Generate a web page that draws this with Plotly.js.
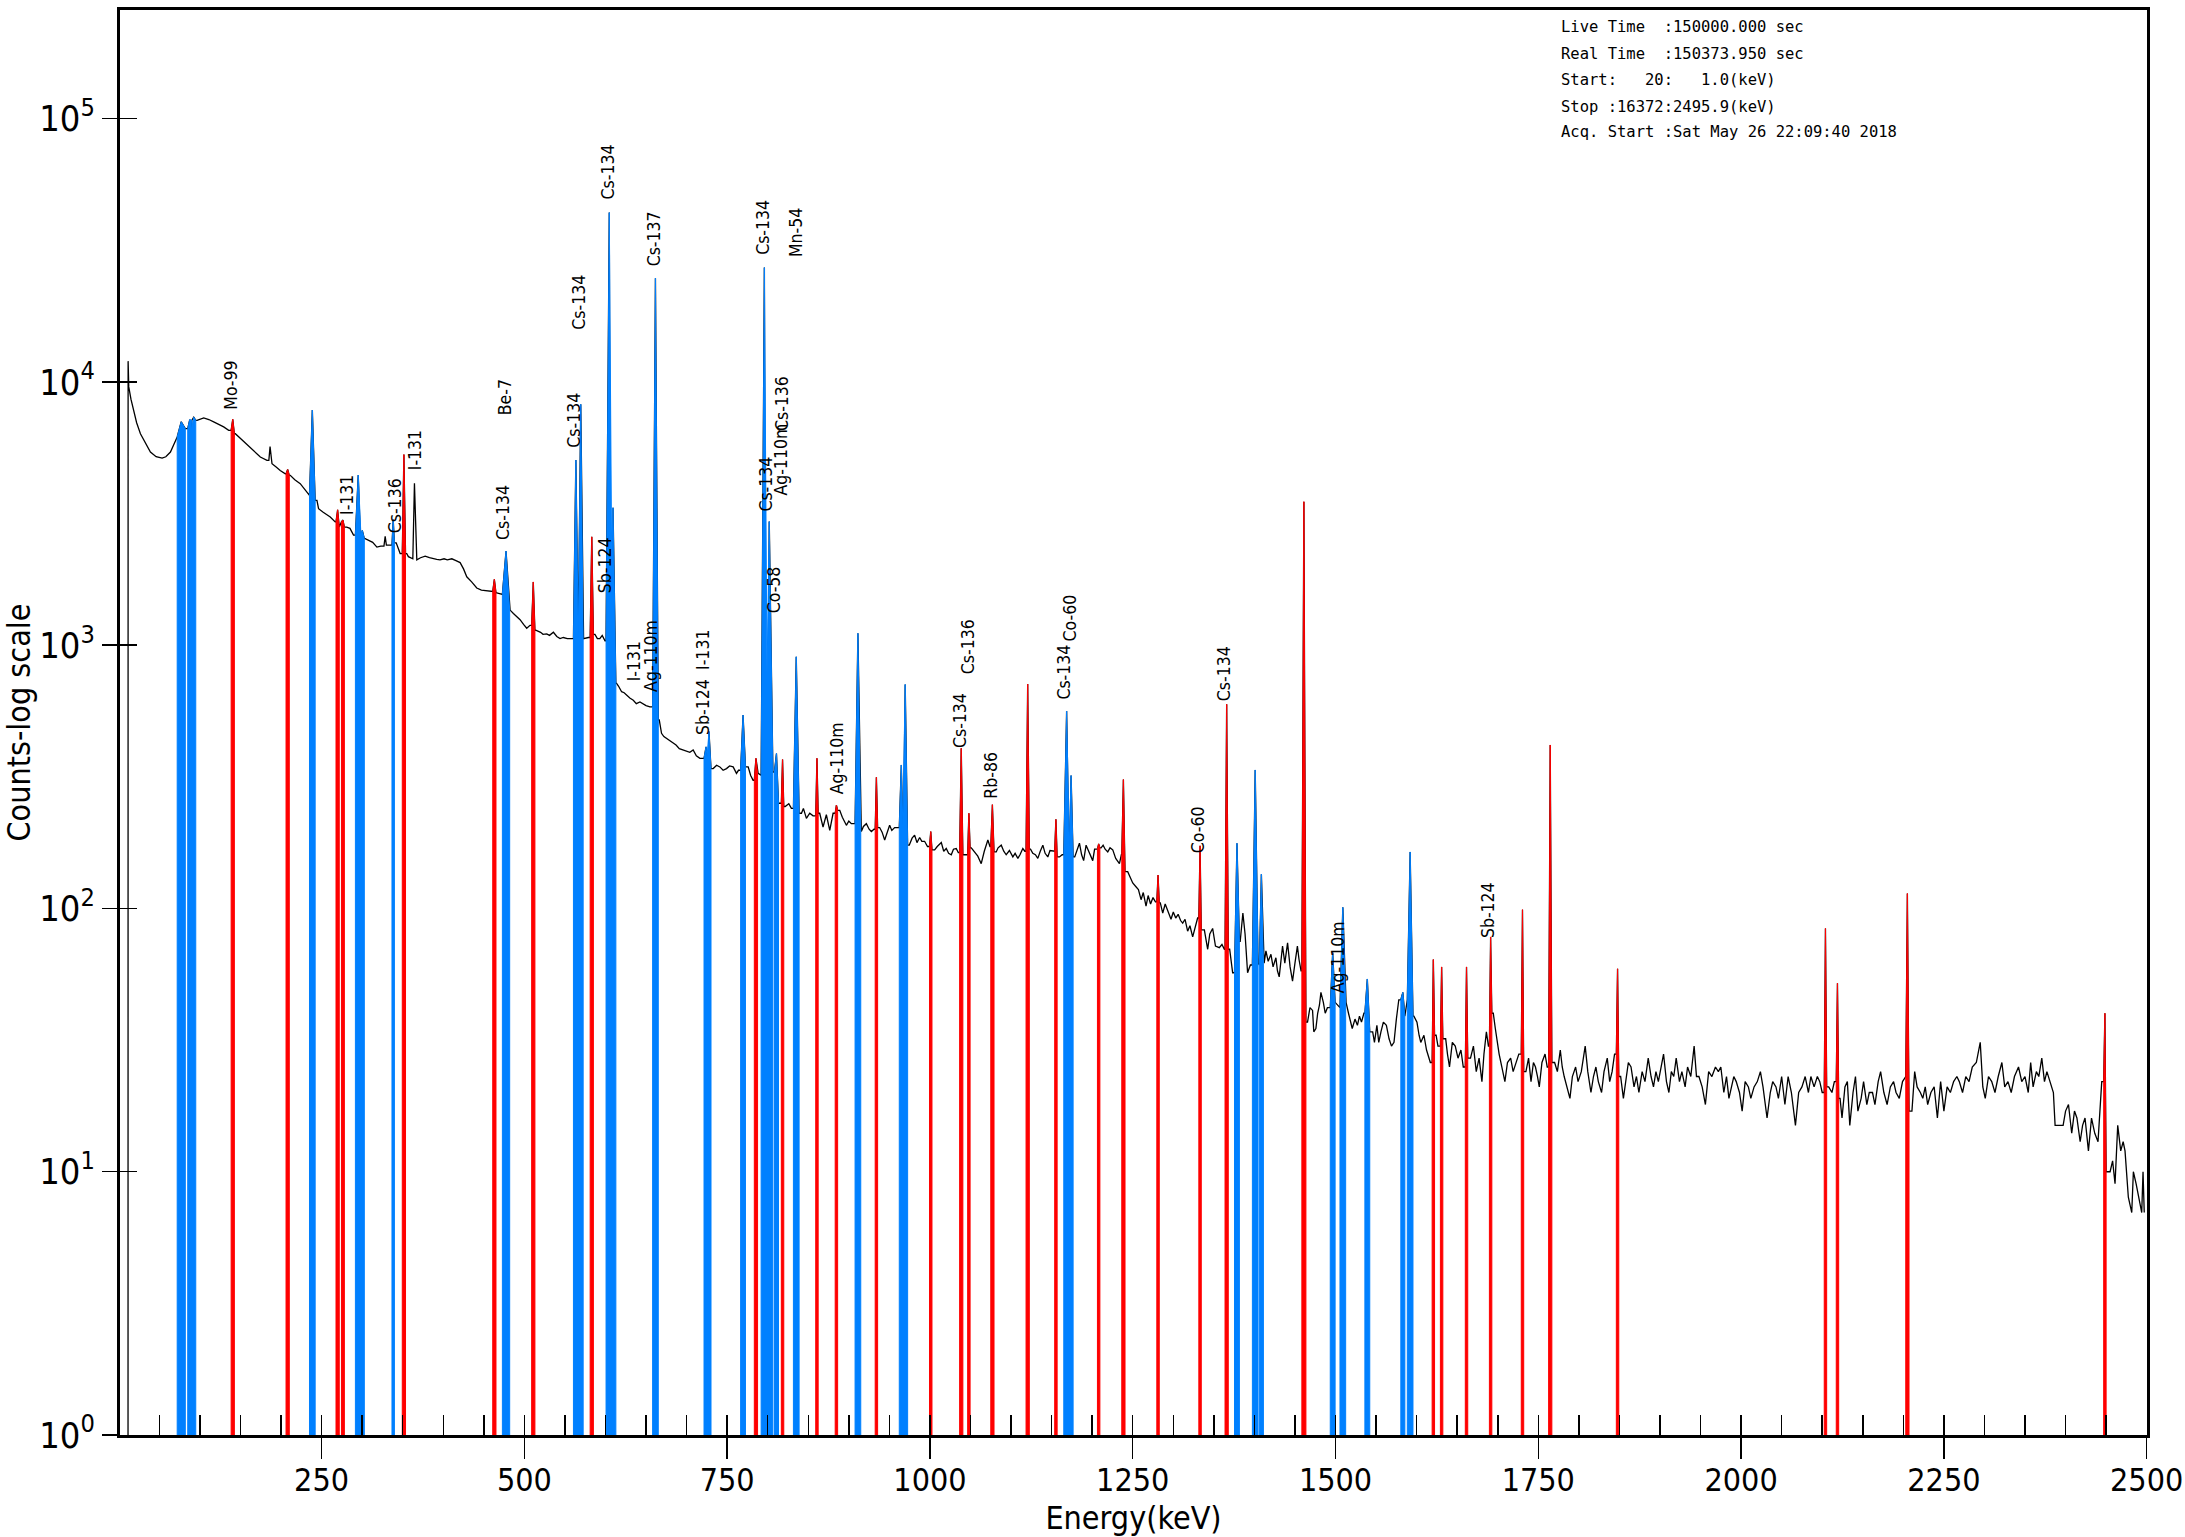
<!DOCTYPE html>
<html><head><meta charset="utf-8">
<script src="https://cdn.plot.ly/plotly-3.0.1.min.js"></script>
<style>html,body{margin:0;padding:0;background:#fff}#chart{width:2185px;height:1537px}</style>
</head><body><div id="chart"></div>
<script>
// ---------- DATA ----------
// continuum of the spectrum: [energy keV, counts]
const continuum = [
[11.4,1],[11.5,12000],[12.3,9580],[15,8600],[18.5,7800],[22,7000],[26.7,6360],[32,5900],[39,5420],[46,5200],[53.4,5140],[58,5200],[63.7,5420],[68,5800],[71.9,6180],[83.3,6650],[96.5,7150],
[104.7,7300],[111,7200],[117,7050],[123,6900],[129.3,6750],[135.5,6550],[143.7,6360],[150,6100],[158,5830],[166,5500],[174.5,5190],[182.7,5040],[188.9,4890],[194,4750],[199,4610],
[205.3,4480],[211.4,4420],[217,4250],[223.7,4110],[229,3900],[234,3710],[244.3,3550],[246.3,3300],[252,3200],[256,3150],[260.7,3070],[266.8,2940],[281,2810],[285,2780],[289.4,2620],
[303.8,2540],[308,2500],[313,2460],[318.2,2360],[323,2380],[333.5,2400],[342,2450],[346.9,2230],[355,2230],[357,2170],[361.3,2130],[367.4,2110],[372,2150],[377.7,2180],[383,2150],[388,2140],[392,2120],[396,2110],
[401,2130],[405,2110],[410.6,2130],[415,2100],[420.8,2060],[425,1950],[429,1820],[435,1740],[441.3,1650],[447,1620],[453.7,1610],[458,1600],[460.5,1600],[466,1580],[471,1560],[482.4,1360],[486.5,1320],[490,1290],[494.7,1250],[499,1200],
[502.9,1160],[507,1190],[514,1140],[520,1120],[523,1100],[527.6,1105],[531,1090],[535.8,1120],[540,1080],[544,1060],[548,1070],[553,1060],[558.3,1060],[573,1060],[578.9,1070],[587,1100],[590,1060],[593,1060],[596,1090],[599.4,1040],
[613.7,716],[616,700],[619.9,666],[623,660],[626,646],[630,630],[634.3,618],[638,600],[642.5,609],[646,600],[650,590],[654.8,583],[666.3,520],[669.1,463],[672,450],[675.3,443],[679,435],[683.5,424],[687,418],[691,405],[695.8,400],
[700,395],[704,392],[708.1,400],[712,380],[716.4,372],[732.8,340],[737,350],[741,345],[745,335],[749.2,340],[753,348],[757.4,345],[761.5,326],[764,335],[775.9,345],[779,320],[782,307],[788.2,326],[791.5,321],
[807,330],[814.9,251],[821.5,244],[826,250],[829.2,240],[841.6,230],[844,240],[847.7,220],[851.8,230],[855.9,225],[864.1,230],[868.2,204],[872.3,227],[876.5,198],[880.6,230],[888.8,236],[892,222],[897,207],
[900,215],[903.1,210],[915.4,196],[918,205],[921.6,210],[925,200],[927.8,196],[931,200],[938,203],[941,195],[944.2,182],[947,195],[950.3,207],[953,198],[956.5,203],[974.5,174],[978,185],[981.1,190],[984,178],[987.3,186],[990,180],[993.4,180],[997,172],
[1005.8,167],[1009,172],[1014,178],[1017,165],[1020.1,169],[1023,162],[1026.3,160],[1029,168],[1032.4,169],[1035,163],[1042.7,160],[1051,170],[1055,164],[1059,158],[1063.2,148],[1067,165],[1071.4,182],[1074,172],[1081.7,164],[1084,170],[1087.9,174],[1091,165],[1094,160],[1098,166],
[1102.2,157],[1105,162],[1108.4,155],[1111,160],[1114.5,169],[1117,165],[1124,168],[1126.8,162],[1130,160],[1133,155],[1136,165],[1139.2,174],[1142,162],[1145.3,157],[1148,166],[1151,165],[1159.7,157],[1163,160],[1178.5,157],[1181,165],[1184.3,177],[1187,160],[1189.5,152],[1192.5,174],[1196,165],
[1200.7,152],[1203,168],[1211,170],[1213.5,174],[1216,168],[1219.2,164],[1222,170],[1225.4,167],[1229,155],[1233.6,148],[1236,160],[1243.8,138],[1247,130],[1250,125],[1254,121],[1257,118],[1260.3,108],[1263,115],[1266.4,102],[1269,112],[1272,104],[1275,110],[1278,106],[1284,105],[1287,96],[1290,104],[1293,98],[1297.2,91],
[1300,97],[1303,92],[1306,95],[1309,90],[1311.6,88],[1314.5,91],[1317.7,82],[1320.5,86],[1323.9,78],[1327,85],[1330,92],[1338.3,83],[1342.4,70],[1345,80],[1348.5,84],[1352,72],[1356.7,71],[1360,73],[1363,70],[1369.5,70],[1373.2,57],[1382.5,75],[1385.8,96],[1388.5,80],[1391.6,57],[1395,61],
[1412,62],[1414.2,69],[1417,63],[1420.4,67],[1423,60],[1426.5,65],[1428.4,58],[1430.6,55],[1434.7,72],[1437.5,62],[1440.9,74],[1444,60],[1447,53],[1450,62],[1453,72],[1455,64],[1457.5,58],[1465.5,37],[1468.5,42],[1471.7,41],[1473.2,34],[1475.8,35],[1478,40],[1480.2,43],[1482,48],[1485,44],[1487.3,40],[1490,42],
[1513,44],[1516,40],[1520.6,35],[1524,38],[1527,36],[1529.5,39],[1532,37],[1535,40],[1545.8,34],[1548,31],[1551,36],[1553.3,31],[1556,34],[1559,37],[1562.7,36],[1566,32],[1569,30],[1572.1,31],[1575,38],[1578,45],[1596.6,39],
[1600.4,37],[1603,33],[1605.1,31],[1609,33],[1612.2,29],[1616.9,26],[1624,33],[1626.3,30],[1635.8,32],[1638,28],[1640.5,25],[1644,31],[1647.6,30],[1651,27],[1654.6,29],[1657.5,25],[1666.4,27],[1670,30],[1673.5,24],[1677,27],[1680.5,22],[1683,28],[1686,34],[1688.5,30],[1694.5,40],[1697,35],[1699.5,31],
[1701.7,28],[1705,25],[1708.8,22],[1712,26],[1715.9,27],[1719,24],[1723,26],[1726,28],[1734.7,24],[1738,27],[1741,22],[1744,26],[1746.5,25],[1749,23],[1751.2,21],[1754.5,26],[1758.3,28],[1761,25],[1770.1,26],[1773.5,24],[1777.1,29],[1779.5,25],[1781.9,23],[1785,21],[1789,19],[1792,23],[1796,25],[1799,22],
[1803,24],[1807.8,30],[1811,24],[1814.9,20],[1818,23],[1821,25],[1824,22],[1828,20],[1831,24],[1835,27],[1838,22],[1841,24],[1844,28],[1851.5,23],[1854.9,19],[1858,22],[1861,26],[1864.3,25],[1868,21],[1871,23],[1874,20],[1878,24],[1881.5,22],[1885.5,27],[1889,23],[1892,21],[1895,24],[1898,22],
[1901,25],[1904.4,28],[1908,22],[1911,20],[1914,24],[1917,23],[1920,27],[1924,22],[1927,24],[1931,21],[1934,25],[1938,23],[1942.1,30],[1945,23],[1948,23],[1952,21],[1956,18],[1960,24],[1964,23],[1968.4,25],[1972,24],[1975,25],[1978.7,20],[1982,23],[1985,19],[1988,21],[1991,23],[1994,22],[1998,20],
[2001.3,17],[2005,22],[2009,21],[2012,19],[2016,21],[2020,22],[2023.8,24],[2027,21],[2032,16],[2036,20],[2039,22],[2043,21],[2046,19],[2050,23],[2054,18],[2058,23],[2062,20],[2067,15],[2071,20],[2075,21],[2079,23],[2083,20],[2086,23],[2090,21],[2094,23],[2097,22],[2100,20],
[2108,21],[2112,20],[2115,22],[2122,19],[2124.4,16],[2128,21],[2131,22],[2134,15],[2138,20],[2141,23],[2144,17],[2148,19],[2151,22],[2155,18],[2158,20],[2162,20],[2165,18],[2169,22],[2172,24],[2176,20],[2180,18],[2184,21],[2188,22],[2191,20],[2195,19],[2199,22],[2202,23],
[2210.6,17],[2214,24],[2217,21],[2221,20],[2224,19],[2227,21],[2230,18],[2234,20],[2238,21],[2242,16],[2246,22],[2250,17],[2254,21],[2258,20],[2262,22],[2266,23],[2269,22],[2273,20],[2277,23],[2281,22],[2285,25],[2290,26],[2294.8,31],[2298,21],
[2301,19],[2305,23],[2309,22],[2313,20],[2317,23],[2321.5,26],[2325,21],[2329,22],[2333,20],[2337,23],[2342,25],[2346,22],[2350,23],[2354,20],[2357,26],[2360,21],[2364,24],[2367,23],[2370.7,27],[2374,22],[2377,24],[2381,22],[2385,20],[2387.1,15],[2392,15],[2397,15],
[2400,17],[2403.6,18],[2407.6,14],[2411,17],[2414,16],[2418,13],[2421,15],[2424,16],[2428.2,12],[2432,16],[2436,14],[2440,13],[2444.6,22],[2454.9,10],[2458,11],[2461,9],[2464.3,15],[2468,12],[2471,13],[2473.3,12],[2477.4,8],[2481.6,7],[2483.6,10],[2487,9],[2490,8],[2493.9,7],[2495.5,10],[2497,7]
];
// peaks: [energy keV, apex counts, half width keV]
const bluePeaks = [
[77,7060,5],[87.5,7200,2.5],[92.4,7350,2.5],[238.6,7820,3.5],[295.2,4430,3.5],[300.2,2730,2.5],[338.3,3000,1.5],[477.4,2280,4.5],
[563.5,5050,3],[569.5,8230,3],[604.7,44000,4],[609.3,3330,3.5],[661.6,24800,3.5],[724,411,2.5],[727.6,470,2.5],[769.6,543,3],
[795.9,27200,4],[801.9,2950,4.5],[810.8,388,2.5],[835.2,904,3.5],[911.2,1110,3.5],[964.7,351,2.5],[969.5,710,3],[1168.5,562,3.5],[1174,320,2.5],
[1378.5,177,3],[1401,336,3.5],[1408.6,135,2.5],[1496.5,68,3],[1509,101,3.5],[1539.2,54,3],[1583,48,2.5],[1592,164,3.5]
];
const redPeaks = [
[140.5,7220,2],[208.2,4650,2],[269.8,3270,2],[276.3,2990,1.8],[351.5,5300,2],[463,1780,2],[511,1740,2],[583.1,2580,2],
[785.5,372,2],[818.3,368,1.5],[860.7,372,1.5],[884.7,247,1.5],[934,315,1.5],[1001,196,1.5],[1038.6,406,2],[1048,230,1.5],
[1077,248,2],[1120.5,712,2],[1155.3,218,1.5],[1208,176,1.5],[1238.5,309,2],[1281.2,134,1.5],[1333,173,1.5],[1365.8,597,2],
[1461,3510,2.5],[1620.6,64,1.5],[1630.8,60,1.5],[1661.5,60,1.5],[1691.2,78,1.5],[1730.5,99,1.5],[1764.7,418,2],[1847.7,59,1.5],
[2104,84,1.5],[2118.8,52,1.5],[2205,114,2],[2448.5,40,1.5]
];
const plainPeaks = [[186.5,5680,1.5],[328.4,2590,1.5],[364.5,4120,2]];

// nuclide labels
const labelText = ['Mo-99','I-131','Cs-136','I-131','Be-7','Cs-134','Cs-134','Cs-134','Cs-134','Sb-124','Cs-137','I-131','Ag-110m',
 'Sb-124','I-131','Cs-134','Mn-54','Cs-134','Ag-110m','Cs-136','Co-58','Ag-110m','Cs-134','Cs-136','Rb-86','Cs-134','Co-60',
 'Co-60','Cs-134','Ag-110m','Sb-124'];
const labelEnergy = [138.3,281.3,340,364.8,475.5,473,561.3,567.7,603.4,599.4,660.2,635.1,656.7,
 720.4,720.4,794.4,834.2,798.5,817,817,808.8,884.6,1036.5,1046.8,1074.8,1165.9,1172.1,
 1330.1,1362.9,1502.4,1688];
// layout: log10 height of the lower end of each label
const labelLogY = [3.889,3.487,3.418,3.656,3.868,3.392,3.741,4.190,4.685,3.190,4.431,2.855,2.817,
 2.652,2.899,4.474,4.467,3.500,3.559,3.806,3.115,2.428,2.602,2.884,2.410,2.786,3.007,
 2.203,2.779,1.672,1.880];

const headerLines = ['Live Time  :150000.000 sec','Real Time  :150373.950 sec','Start:   20:   1.0(keV)','Stop :16372:2495.9(keV)','Acq. Start :Sat May 26 22:09:40 2018'];
const xTickVals = [250,500,750,1000,1250,1500,1750,2000,2250,2500];
const xTickText = ['250','500','750','1000','1250','1500','1750','2000','2250','2500'];
const yTickVals = [1,10,100,1000,10000,100000];
const yTickText = ['10<sup>0</sup>','10<sup>1</sup>','10<sup>2</sup>','10<sup>3</sup>','10<sup>4</sup>','10<sup>5</sup>'];

// ---------- BUILD ----------
const allPeaks = bluePeaks.concat(redPeaks, plainPeaks);
const kept = continuum.filter(([e]) => !allPeaks.some(([pe,,w]) => e > pe - w && e < pe + w));
function baseLeft(x){ let v = kept[0][1]; for (const [e,c] of kept){ if (e <= x) v = c; else break; } return v; }
function baseRight(x){ for (const [e,c] of kept){ if (e >= x) return c; } return kept[kept.length-1][1]; }

const pts = kept.map(p => [p[0], p[1]]);
allPeaks.forEach(([pe,h,w]) => {
  pts.push([pe - w, baseLeft(pe - w)], [pe, h], [pe + w, baseRight(pe + w)]);
});
pts.sort((a,b) => a[0] - b[0]);

function polys(list){
  const x = [], y = [];
  list.forEach(([pe,h,w]) => {
    x.push(pe - w, pe - w, pe, pe + w, pe + w, null);
    y.push(1, baseLeft(pe - w), h, baseRight(pe + w), 1, null);
  });
  return {x, y};
}
const bp = polys(bluePeaks), rp = polys(redPeaks);

const COND = 'DejaVu Sans Condensed, DejaVu Sans, sans-serif';
const NARROW = 'Liberation Sans Narrow, DejaVu Sans Condensed, sans-serif';
const MONO = 'DejaVu Sans Mono, Liberation Mono, monospace';
const yTop = 5.413;
const xRange = [1.5, 2500.4];

const traces = [
  {x: pts.map(p=>p[0]), y: pts.map(p=>p[1]), mode:'lines', line:{color:'#000', width:1.3}, hoverinfo:'skip'},
  {x: bp.x, y: bp.y, mode:'lines', fill:'toself', fillcolor:'#0080ff', line:{color:'#0080ff', width:1}, hoverinfo:'skip'},
  {x: rp.x, y: rp.y, mode:'lines', fill:'toself', fillcolor:'#ff0000', line:{color:'#ff0000', width:1}, hoverinfo:'skip'},
  {x:[null], y:[null], xaxis:'x2', yaxis:'y', mode:'markers', hoverinfo:'skip'},
  {x:[null], y:[null], xaxis:'x', yaxis:'y2', mode:'markers', hoverinfo:'skip'}
];

const annotations = [];
labelText.forEach((t,i) => annotations.push({
  text: t, x: labelEnergy[i], y: labelLogY[i], xref:'x', yref:'y', textangle:-90,
  xanchor:'center', yanchor:'bottom', showarrow:false, font:{family:COND, size:17.5, color:'#000'}
}));
const headerY = [0.98842, 0.96891, 0.95053, 0.93193, 0.91431];
headerLines.forEach((t,i) => annotations.push({
  text: t.replace(/ /g, '\u00a0'), x: 0.7099, y: headerY[i], xref:'paper', yref:'paper',
  xanchor:'left', yanchor:'middle', showarrow:false, font:{family:MONO, size:15.5, color:'#000'}
}));

const layout = {
  width: 2185, height: 1537,
  margin: {l:120, r:38, t:10, b:102},
  paper_bgcolor:'#fff', plot_bgcolor:'#fff',
  showlegend:false, hovermode:false,
  xaxis: {
    type:'linear', range:xRange, showgrid:false, zeroline:false,
    showline:true, mirror:true, linecolor:'#000', linewidth:3,
    ticks:'outside', ticklen:21, tickwidth:1.5, tickcolor:'#000',
    tickmode:'array', tickvals:xTickVals, ticktext:xTickText, ticklabelstandoff:-6,
    ticklabeloverflow:'allow',
    tickfont:{family:NARROW, size:32, color:'#000'},
    title:{text:'Energy(keV)', font:{family:COND, size:32, color:'#000'}, standoff:10}
  },
  xaxis2: {
    overlaying:'x', anchor:'y', side:'bottom', range:xRange, showgrid:false, zeroline:false, showline:false,
    ticks:'inside', ticklen:20, tickwidth:1.5, tickcolor:'#000', tick0:0, dtick:50, showticklabels:false
  },
  yaxis: {
    type:'log', range:[0, yTop], showgrid:false, zeroline:false,
    showline:true, mirror:true, linecolor:'#000', linewidth:3,
    ticks:'outside', ticklen:15, tickwidth:1.5, tickcolor:'#000',
    tickmode:'array', tickvals:yTickVals, ticktext:yTickText,
    tickfont:{family:NARROW, size:36, color:'#000'},
    title:{text:'Counts-log scale', font:{family:COND, size:32, color:'#000'}, standoff:9}
  },
  yaxis2: {
    type:'log', overlaying:'y', anchor:'x', side:'left', range:[0, yTop], showgrid:false, zeroline:false, showline:false,
    ticks:'inside', ticklen:17, tickwidth:1.5, tickcolor:'#000', tickmode:'array', tickvals:yTickVals, showticklabels:false
  },
  annotations: annotations
};

Plotly.newPlot('chart', traces, layout, {displayModeBar:false, staticPlot:true});
</script></body></html>
